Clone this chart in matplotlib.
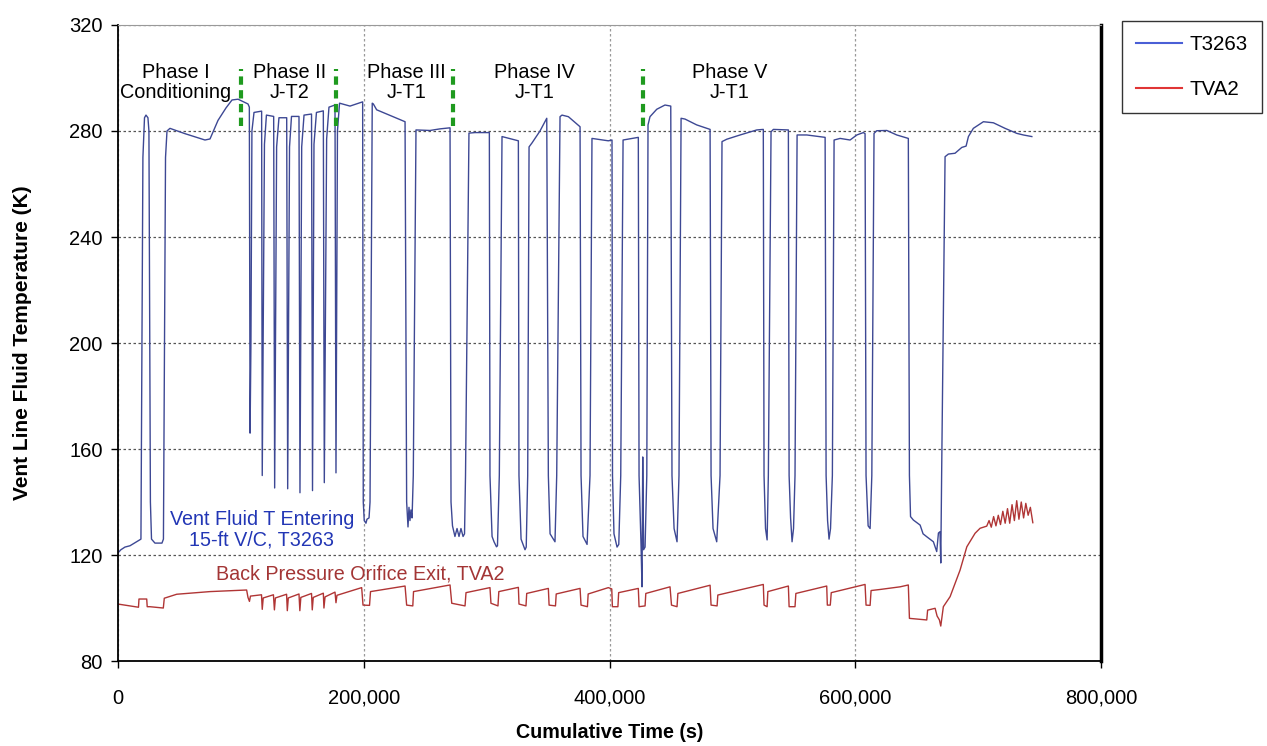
import matplotlib
matplotlib.use('Agg')
import matplotlib.pyplot as plt
from matplotlib.lines import Line2D
from matplotlib.ticker import FuncFormatter

plt.rcParams['font.family'] = ['Liberation Sans', 'DejaVu Sans']

# T3263: vent fluid temperature entering 15-ft V/C (time s, temp K)
t3263_time = [0, 2400, 5700, 9800, 16300, 18700, 20300, 21600, 22800, 24400, 25200, 26400, 27300, 30100,
              35800, 37000, 38700, 39900, 42300, 54500, 70800, 74900, 81400, 87900, 92800, 97700, 105800,
              106900, 107500, 108200, 109000, 110700, 116900,
              117400, 119200, 120800, 126700,
              127500, 129100, 131000, 137300,
              138100, 139600, 141200, 147300,
              148100, 149500, 151400, 157500,
              158300, 159500, 161500, 167100,
              167900, 169800, 171700, 176600,
              177400, 178600, 180300, 188800, 199100,
              199600, 200400, 201800, 202600, 204300, 205100, 206900, 207800, 210500, 233600,
              234900, 236000, 236800, 237600, 238400, 239300, 240300, 242500, 253900, 262000, 270200,
              271000, 272200, 274200, 275900, 277500, 279100, 280800, 282000, 282800, 285600, 290500, 302200,
              302700, 304400, 306000, 308000, 308800, 310300, 312500, 325800,
              326300, 328000, 331200, 332200, 333400, 334500, 336900, 343400, 348900,
              350200, 351600, 355600, 357000, 359700, 361300, 366500, 376000,
              376800, 378400, 381700, 384100, 385700, 399000, 402000,
              402400, 403600, 406100, 407500, 409100, 411000, 423400,
              424000, 425600, 426400, 427000, 427700, 428900, 430300, 431300, 432900, 438400, 445100, 449800,
              450800, 452500, 454900, 456500, 458200, 461400, 470900, 481800,
              482600, 484200, 487200, 489900, 491500, 495400, 506200, 519800, 525100,
              525700, 526900, 528200, 529200, 531400, 533300, 545500,
              546100, 547300, 548500, 549700, 550900, 552600, 560500, 575400,
              576200, 577400, 578600, 579800, 581300, 582700, 587600, 595700, 601200, 606500, 607900,
              608700, 610400, 612000, 613400, 615200, 617400, 625600, 633700, 643100,
              644000, 644900, 647200, 652700, 655100, 658100, 663500, 666200, 667600, 668900, 669500, 670200,
              673000, 675700, 681100, 686600, 690100, 692000, 696000, 704200, 712300, 721800, 731400,
              736700, 743600]
t3263_temp = [120.8, 122, 123, 123.5, 125.3, 126, 270, 285, 286, 285, 280, 140, 126, 124.5,
              124.5, 126, 270, 280, 281, 279, 276.6, 277, 284, 288.7, 291.7, 292, 290.2,
              289, 166, 200, 280, 287, 287.5,
              150, 275, 286, 285.5,
              145.3, 274, 285, 285,
              145, 274, 285.5, 285.5,
              143.5, 274, 286, 286.4,
              144.3, 275, 287, 287.6,
              147.3, 277, 289, 289.8,
              151, 280, 290.5, 289.4, 291,
              140, 133, 132, 133.5, 134, 140, 290.5, 290.2, 288, 283.5,
              140, 130.6, 138, 133, 137, 134, 150, 280.4, 280.2, 280.8, 281.2,
              140, 131, 127, 130, 127, 130, 127, 128, 150, 279.2, 279.4, 279.4,
              150, 127, 125, 123.1, 123.5, 150, 277.9, 276.3,
              150, 126, 122, 123, 150, 274, 275.5, 280, 284.8,
              150, 128, 125, 150, 285.4, 286, 285.4, 281.6,
              150, 127, 124, 150, 277.2, 276.3, 276.6,
              150, 128, 123, 124, 150, 276.6, 277.6,
              150, 124, 108, 157, 122, 123, 150, 282.3, 285.4, 288.2, 289.8, 289.4,
              150, 130, 125, 150, 284.8, 284.5, 282.3, 280.6,
              150, 130, 125, 150, 276, 276.9, 278.5, 280.4, 280.6,
              150, 130, 125.7, 150, 279.7, 280.6, 280.4,
              150, 134, 125, 130, 150, 278.5, 278.5, 277.6,
              150, 133, 126, 130, 150, 276.6, 277.2, 276.6, 278.5, 279.4, 279,
              150, 131, 130, 150, 279.1, 280.1, 280.2, 278.5, 277.2,
              150, 134.5, 133.2, 131.3, 128, 126.9, 125, 121.3, 128.3, 128.8, 117, 150,
              270.3, 271.3, 271.6, 273.8, 274.3, 277.9, 281, 283.5, 283.1, 281, 279.1,
              278.5, 277.9]

# TVA2: back pressure orifice exit temperature
tva2_time = [0, 9800, 16700, 17100, 23400, 23800, 26000, 36900, 37700, 47800, 74900, 104700,
             105800, 107000, 107800, 116800, 117400, 118200, 126500, 127300, 128100, 137200, 137800, 138600,
             147300, 148000, 148800, 157500, 158100, 158900, 167100, 167600, 168500, 176600, 177400, 178200,
             198300, 199400, 204700, 205500, 233600, 234900, 239900, 240500, 270200, 271600, 282400, 283200,
             302700, 303500, 309200, 309900, 325800, 326300, 332000, 332600, 350200, 350800, 356000, 356600,
             376000, 376800, 382000, 382600, 399000, 401800, 402300, 406800, 407400, 423400, 424000, 428900,
             429500, 449200, 450400, 454900, 455600, 481800, 482600, 487500, 488100, 525100, 525700, 528200,
             528800, 545500, 546100, 550900, 551600, 576700, 577200, 579600, 580400, 607900, 608700, 612000,
             612800, 620100, 636400, 643100, 644000, 658100, 658800, 664900, 666500, 668400, 669500, 671600,
             677100, 685200, 690700, 697400, 701500, 706900, 708800, 710600, 712500, 714400, 716300, 718100,
             720000, 721900, 723800, 725600, 727500, 729400, 731300, 733100, 735000, 736900, 738700, 740600,
             742400, 744400]
tva2_temp = [101.5, 100.8, 100.3, 103.4, 103.4, 100.5, 100.5, 100.0, 103.7, 105.2, 106.2, 106.8,
             104.0, 102.5, 104.5, 105.0, 99.5, 103.8, 105.0, 99.3, 103.8, 105.2, 99.0, 103.8,
             105.3, 99.0, 104.0, 105.5, 99.3, 104.0, 105.6, 100, 104.2, 106, 102, 104.8,
             107.7, 101.1, 101.0, 106.2, 108.3, 101.1, 100.8, 106.2, 108.7, 101.8, 100.8, 105.8,
             107.7, 101.8, 100.8, 106.2, 107.8, 101.5, 100.8, 105.5, 107.4, 101.1, 100.8, 105.3,
             107.4, 101.1, 100.5, 105.3, 107.7, 107.2, 100.5, 100.5, 105.8, 107.4, 100.5, 100.8,
             105.5, 108.0, 101.1, 100.5, 105.5, 108.6, 101.1, 100.8, 104.9, 108.9, 101.1, 100.5,
             106.2, 108.3, 100.5, 100.5, 105.5, 108.3, 101.1, 101.1, 105.8, 108.9, 101.1, 101.0,
             106.6, 107.0, 108.0, 108.7, 96.1, 95.5, 99.2, 99.9, 97, 95.5, 93.2, 100.5,
             104.3, 114.3, 123.1, 128.2, 130.1, 130.9, 133, 130.5, 134.5, 131, 135, 131.5,
             136.5, 132, 137.5, 132, 139, 133, 140.5, 133.5, 140, 134, 139.5, 135,
             138, 132.2]

phase_names = ['Phase I\nConditioning', 'Phase II\nJ-T2', 'Phase III\nJ-T1', 'Phase IV\nJ-T1', 'Phase V\nJ-T1']
phase_label_x = [47000, 140000, 235000, 339000, 498000]
phase_bounds = [100000, 177400, 272600, 427000]

fig = plt.figure(figsize=(12.67, 7.46), dpi=100)
ax = fig.add_axes([0.0931, 0.1139, 0.7760, 0.8526])

ax.plot(t3263_time, t3263_temp, color='#3d4894', lw=1.0)
ax.plot(tva2_time, tva2_temp, color='#b03535', lw=1.0)

for xb in phase_bounds:
    ax.plot([xb, xb], [282, 303.5], color='#1f9a1f', lw=3, ls=(0, (2, 1.3)))
for name, xl in zip(phase_names, phase_label_x):
    ax.text(xl, 298.3, name, ha='center', va='center', fontsize=14.3, linespacing=1.05)

ax.text(117000, 129.5, 'Vent Fluid T Entering\n15-ft V/C, T3263', ha='center', va='center',
        fontsize=14.2, color='#2236b5', linespacing=1.05)
ax.text(197000, 112.8, 'Back Pressure Orifice Exit, TVA2', ha='center', va='center',
        fontsize=14.2, color='#a33535')

ax.set_xlim(0, 800000)
ax.set_ylim(80, 320)
ax.set_xticks([0, 200000, 400000, 600000, 800000])
ax.set_yticks([80, 120, 160, 200, 240, 280, 320])
ax.xaxis.set_major_formatter(FuncFormatter(lambda v, _: f'{int(v):,}'))
ax.tick_params(labelsize=14.5, length=5, width=1)
ax.tick_params(axis='x', pad=15)
ax.tick_params(axis='y', pad=6)

ax.grid(axis='y', color='#555555', ls=(0, (2, 2)), lw=0.9)
ax.grid(axis='x', color='#999999', ls=(0, (2, 2)), lw=0.9)
ax.set_axisbelow(True)

for s in ['left', 'bottom']:
    ax.spines[s].set_linewidth(1.3)
ax.spines['top'].set_color('#999999')
ax.spines['right'].set_linewidth(2.5)

ax.set_xlabel('Cumulative Time (s)', fontsize=14.2, fontweight='bold', labelpad=11)
ax.set_ylabel('Vent Line Fluid Temperature (K)', fontsize=15, fontweight='bold', labelpad=27)

handles = [Line2D([], [], color='#4a5fd6', lw=1.5), Line2D([], [], color='#e03535', lw=1.5)]
leg = fig.legend(handles, ['T3263', 'TVA2'], loc='upper left', bbox_to_anchor=(0.8855, 0.972),
                 fontsize=14.8, frameon=True, fancybox=False, edgecolor='black', handlelength=2.2,
                 handletextpad=0.4, labelspacing=1.25, borderpad=0.7, borderaxespad=0)
leg.get_frame().set_linewidth(1.0)

plt.savefig('out.png', dpi=100)
